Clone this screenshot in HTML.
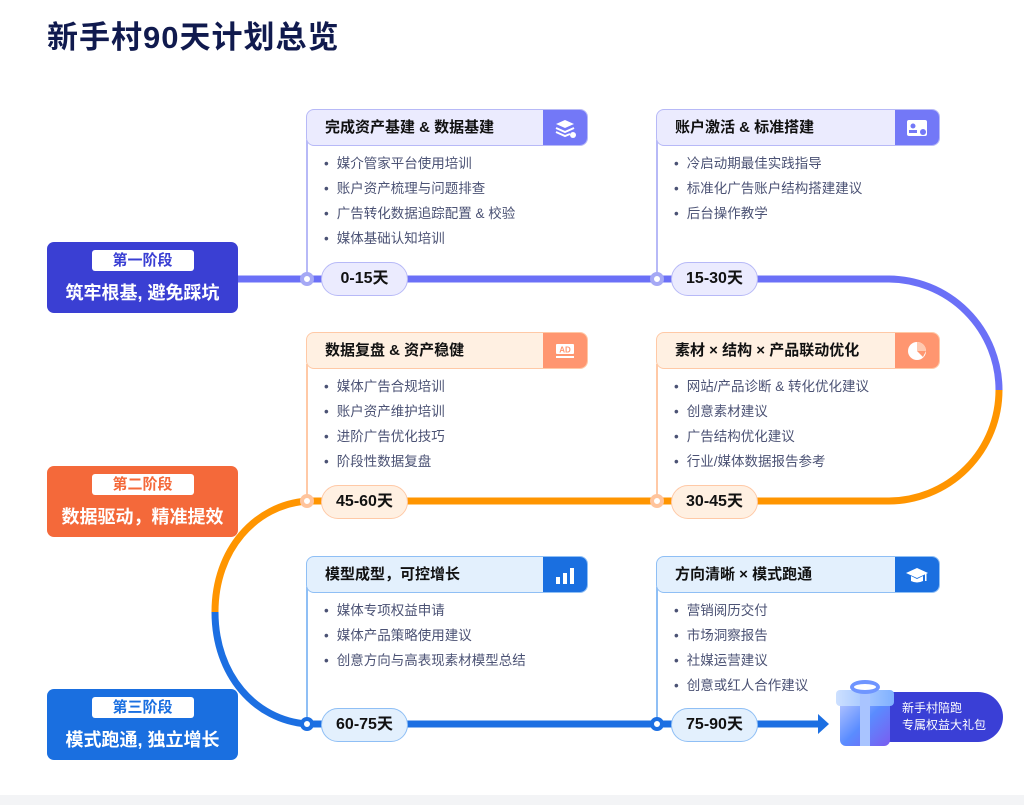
<!DOCTYPE html>
<html><head><meta charset="utf-8"><style>
*{margin:0;padding:0;box-sizing:border-box}
body{width:1024px;height:805px;background:#fff;position:relative;overflow:hidden;font-family:"Liberation Sans","Noto Sans CJK SC",sans-serif}
.t{position:absolute;left:47px;top:12px;font-size:31px;font-weight:bold;color:#101a4e;letter-spacing:1px}
.stage{position:absolute;left:47px;width:191px;height:71px;border-radius:7px;color:#fff;text-align:center}
.stage .tag{margin:8px auto 0;width:102px;height:21px;background:#fff;border-radius:3px;font-size:15px;line-height:21px;font-weight:bold}
.stage .m{font-size:18px;font-weight:bold;margin-top:8px}
.card{position:absolute;width:282px}
.hd{height:37px;border:1px solid;border-radius:8px 8px 8px 8px;position:relative;padding-left:18px;font-size:15px;font-weight:bold;line-height:35px;color:#111;overflow:hidden}
.ic{position:absolute;right:0;top:0;width:44px;height:100%;display:flex;align-items:center;justify-content:center}
.vl{position:absolute;width:2px}
ul{list-style:none;margin-top:5px;padding-left:18px}
li{font-size:13.5px;color:#4b5274;height:25px;line-height:25px}
li:before{content:"•";margin-right:8px;color:#4b5274}
.pill{position:absolute;width:87px;height:34px;border:1px solid;border-radius:17px;text-align:center;line-height:32px;font-size:16px;font-weight:bold;color:#111}
.dot{position:absolute;width:14px;height:14px;border-radius:50%;background:#fff;border:4px solid}
</style></head><body>
<div class="t">新手村90天计划总览</div>
<svg style="position:absolute;left:0;top:0" width="1024" height="805">
<path d="M238 279 H888 A111 111 0 0 1 999 390" stroke="#6b70f7" stroke-width="7" fill="none"/>
<path d="M999 390 A111 111 0 0 1 888 501 H307" stroke="#ff9500" stroke-width="7" fill="none"/>
<path d="M307 501 C255 505 215 550 215 612" stroke="#ff9500" stroke-width="7" fill="none"/>
<path d="M215 612 C215 675 255 720 307 724 H820" stroke="#1c6fe2" stroke-width="7" fill="none"/>
<path d="M818 714 L829 724 L818 734 Z" fill="#1c6fe2"/>
</svg>
<div class="stage" style="top:242px;background:#3a3fd3"><div class="tag" style="color:#3a3fd3">第一阶段</div><div class="m">筑牢根基, 避免踩坑</div></div>
<div class="stage" style="top:466px;background:#f4693a"><div class="tag" style="color:#f4693a">第二阶段</div><div class="m">数据驱动，精准提效</div></div>
<div class="stage" style="top:689px;background:#1a6fe0"><div class="tag" style="color:#1a6fe0">第三阶段</div><div class="m">模式跑通, 独立增长</div></div>

<div class="vl" style="left:306px;top:140px;height:140px;background:#b7b9f7"></div>
<div class="vl" style="left:656px;top:140px;height:140px;background:#b7b9f7"></div>
<div class="card" style="left:306px;top:109px"><div class="hd" style="background:#ebebfe;border-color:#b7b9f7">完成资产基建 &amp; 数据基建<div class="ic" style="background:#7378f7"><svg width="22" height="20"><path d="M11 2 L20 6 L11 10 L2 6Z" fill="#fff"/><path d="M2 10 L11 14 L20 10 M2 14 L11 18 L16 16" stroke="#fff" stroke-width="2" fill="none"/><circle cx="19" cy="17" r="3" fill="#fff"/></svg></div></div>
<ul><li>媒介管家平台使用培训</li><li>账户资产梳理与问题排查</li><li>广告转化数据追踪配置 &amp; 校验</li><li>媒体基础认知培训</li></ul></div>
<div class="card" style="left:656px;top:109px;width:284px"><div class="hd" style="background:#ebebfe;border-color:#b7b9f7">账户激活 &amp; 标准搭建<div class="ic" style="background:#7378f7"><svg width="22" height="18"><rect x="1" y="1" width="20" height="16" rx="2" fill="#fff"/><circle cx="7" cy="7" r="2.5" fill="#7378f7"/><rect x="3" y="11" width="8" height="3" fill="#7378f7"/><circle cx="17" cy="13" r="3" fill="#7378f7"/></svg></div></div>
<ul><li>冷启动期最佳实践指导</li><li>标准化广告账户结构搭建建议</li><li>后台操作教学</li></ul></div>
<div class="dot" style="left:300px;top:272px;border-color:#a5a8f5"></div>
<div class="dot" style="left:650px;top:272px;border-color:#a5a8f5"></div>
<div class="pill" style="left:321px;top:262px;background:#ebebfe;border-color:#b7b9f7">0-15天</div>
<div class="pill" style="left:671px;top:262px;background:#ebebfe;border-color:#b7b9f7">15-30天</div>

<div class="vl" style="left:306px;top:364px;height:140px;background:#ffc9a6"></div>
<div class="vl" style="left:656px;top:364px;height:140px;background:#ffc9a6"></div>
<div class="card" style="left:306px;top:332px"><div class="hd" style="background:#fff0e2;border-color:#ffc9a6">数据复盘 &amp; 资产稳健<div class="ic" style="background:#ff9670"><svg width="22" height="18"><rect x="2" y="2" width="18" height="10" rx="1" fill="#fff"/><text x="11" y="10.5" font-size="8" font-weight="bold" fill="#ff9670" text-anchor="middle" font-family="Liberation Sans">AD</text><rect x="2" y="14" width="18" height="2" fill="#fff"/></svg></div></div>
<ul><li>媒体广告合规培训</li><li>账户资产维护培训</li><li>进阶广告优化技巧</li><li>阶段性数据复盘</li></ul></div>
<div class="card" style="left:656px;top:332px;width:284px"><div class="hd" style="background:#fff0e2;border-color:#ffc9a6">素材 × 结构 × 产品联动优化<div class="ic" style="background:#ff9670"><svg width="22" height="22"><circle cx="11" cy="11" r="9" fill="#fff"/><path d="M11 11 L11 2 A9 9 0 0 1 20 11Z" fill="#ffc9b0"/><path d="M11 11 L20 11 L17 17Z" fill="#ff9670"/></svg></div></div>
<ul><li>网站/产品诊断 &amp; 转化优化建议</li><li>创意素材建议</li><li>广告结构优化建议</li><li>行业/媒体数据报告参考</li></ul></div>
<div class="dot" style="left:300px;top:494px;border-color:#ffc49c"></div>
<div class="dot" style="left:650px;top:494px;border-color:#ffc49c"></div>
<div class="pill" style="left:321px;top:485px;background:#fff0e2;border-color:#ffc9a6">45-60天</div>
<div class="pill" style="left:671px;top:485px;background:#fff0e2;border-color:#ffc9a6">30-45天</div>

<div class="vl" style="left:306px;top:587px;height:140px;background:#8fbff5"></div>
<div class="vl" style="left:656px;top:587px;height:140px;background:#8fbff5"></div>
<div class="card" style="left:306px;top:556px"><div class="hd" style="background:#e3f0fd;border-color:#8fbff5">模型成型，可控增长<div class="ic" style="background:#1a6fe0"><svg width="22" height="20"><rect x="2" y="12" width="4" height="7" fill="#fff"/><rect x="9" y="8" width="4" height="11" fill="#fff"/><rect x="16" y="3" width="4" height="16" fill="#fff"/></svg></div></div>
<ul><li>媒体专项权益申请</li><li>媒体产品策略使用建议</li><li>创意方向与高表现素材模型总结</li></ul></div>
<div class="card" style="left:656px;top:556px;width:284px"><div class="hd" style="background:#e3f0fd;border-color:#8fbff5">方向清晰 × 模式跑通<div class="ic" style="background:#1a6fe0"><svg width="24" height="20"><path d="M12 3 L23 8 L12 13 L1 8Z" fill="#fff"/><path d="M6 11 V16 Q12 19 18 16 V11 L12 14Z" fill="#fff"/><rect x="20" y="8" width="1.5" height="8" fill="#fff"/></svg></div></div>
<ul><li>营销阅历交付</li><li>市场洞察报告</li><li>社媒运营建议</li><li>创意或红人合作建议</li></ul></div>
<div class="dot" style="left:300px;top:717px;border-color:#1c6fe2"></div>
<div class="dot" style="left:650px;top:717px;border-color:#1c6fe2"></div>
<div class="pill" style="left:321px;top:708px;background:#e3f0fd;border-color:#8fbff5">60-75天</div>
<div class="pill" style="left:671px;top:708px;background:#e3f0fd;border-color:#8fbff5">75-90天</div>

<div style="position:absolute;left:866px;top:692px;width:137px;height:50px;border-radius:25px;background:#3a3fd6;color:#fff;font-size:12px;line-height:17px;padding:8px 0 0 36px">新手村陪跑<br>专属权益大礼包</div>
<div style="position:absolute;left:840px;top:698px;width:50px;height:48px;border-radius:6px;background:linear-gradient(135deg,#b9c8ff,#5a8cff 50%,#7a5cf0)"></div>
<div style="position:absolute;left:836px;top:690px;width:58px;height:16px;border-radius:4px;background:linear-gradient(90deg,#cde0ff,#7fb0ff)"></div>
<div style="position:absolute;left:860px;top:690px;width:10px;height:56px;background:#a9c4ff"></div>
<div style="position:absolute;left:850px;top:680px;width:30px;height:14px;border-radius:50%;border:4px solid #6f95ff"></div>
<div style="position:absolute;left:0;top:795px;width:1024px;height:10px;background:#f3f4f6"></div>
</body></html>
